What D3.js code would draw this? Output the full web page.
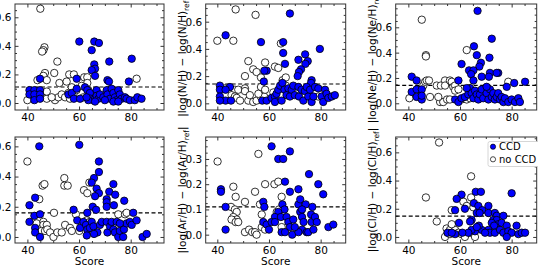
<!DOCTYPE html>
<html><head><meta charset="utf-8">
<script src="https://cdn.jsdelivr.net/npm/d3@7"></script>
<style>body{margin:0;background:#fff} svg{display:block} text{font-family:"DejaVu Sans",sans-serif;fill:#000}</style>
</head><body><svg id="c" width="538" height="266"></svg>
<script>
// ---------- data (Score, |Δlog|) ----------
const ohCCD = [[60.1,0.43],[65.9,0.43],[67.7,0.42],[64.9,0.37],[71.7,0.29],[80.4,0.31],[65.9,0.27],[66.2,0.24],[64.9,0.23],[59.1,0.17],[66.2,0.19],[71,0.16],[71.6,0.15],[79.3,0.15],[44.9,0.17],[40.8,0.09],[42.7,0.09],[44.9,0.09],[40.8,0.06],[42.7,0.06],[44.9,0.06],[42.7,0.02],[44.9,0.03],[55.9,0.06],[57.2,0.07],[58,0.03],[60.4,0.03],[62.3,0.11],[63.2,0.09],[64.2,0.07],[64.5,0.03],[65.5,0.02],[66.8,0.09],[66.8,0.05],[67.5,0.03],[68.1,0.06],[69.4,0.04],[70.7,0.09],[71,0.06],[72,0.03],[72.6,0.10],[73.3,0.07],[73.9,0.04],[74.6,0.02],[75.2,0.09],[75.8,0.06],[76.5,0.03],[77.8,0.04],[78.4,0.03],[79.7,0.02],[81.6,0.02],[82.6,0.04],[84.2,0.03],[63.6,0.02],[66.2,0.01],[70,0.02],[73.3,0.01],[75.2,0.01],[62.9,0.04],[59.1,0.10]];
const ohNoCCD = [[45,0.66],[46.6,0.39],[46.2,0.37],[45.7,0.36],[51.6,0.29],[46.8,0.21],[46.2,0.19],[47.5,0.16],[43.9,0.16],[50.4,0.21],[52.4,0.14],[56.2,0.20],[58,0.20],[55.2,0.15],[62,0.18],[63.2,0.18],[63.2,0.14],[61,0.12],[57.2,0.11],[40,0.02],[47.5,0.03],[47.5,0.08],[50.7,0.02],[52,0.04],[53.3,0.06],[54.6,0.04],[55.9,0.07],[56.5,0.03],[57.8,0.06],[59,0.09],[82.3,0.17],[49.4,0.04],[63.6,0.09],[61.7,0.04]];
const nhCCD = [[68.1,0.66],[43.2,0.50],[56.9,0.45],[65.5,0.45],[79.7,0.40],[65.5,0.37],[74,0.36],[71.4,0.32],[75,0.31],[74.1,0.29],[66.2,0.29],[72.4,0.25],[71.6,0.23],[59.1,0.24],[58.2,0.24],[71.1,0.20],[76.5,0.17],[76.3,0.15],[58,0.16],[41,0.13],[44.9,0.12],[41,0.10],[43.2,0.10],[41,0.05],[43.2,0.02],[41,0.02],[45.3,0.02],[57.4,0.02],[59.1,0.02],[61,0.04],[62.3,0.05],[62.9,0.07],[63.6,0.10],[64.3,0.13],[65.2,0.15],[66,0.10],[66.8,0.06],[67.5,0.11],[68.1,0.05],[68.8,0.10],[69.4,0.13],[70,0.06],[71.4,0.12],[71.6,0.05],[72.6,0.10],[73.3,0.02],[73.9,0.09],[74.6,0.12],[75.2,0.05],[75.9,0.10],[76.5,0.01],[77.2,0.05],[77.8,0.12],[79.1,0.11],[80.4,0.05],[81.7,0.10],[82.3,0.07],[81,0.01],[83,0.04],[84.3,0.05],[85.5,0.06],[62.3,0.01],[64.9,0.02]];
const nhNoCCD = [[47.1,0.69],[54.8,0.65],[40,0.46],[46.2,0.46],[64.6,0.44],[52,0.31],[53.9,0.25],[55.2,0.23],[58.5,0.30],[50.7,0.20],[62.3,0.27],[63.6,0.26],[56.9,0.19],[65.3,0.17],[66.5,0.19],[43,0.11],[46.8,0.10],[48.1,0.10],[50.7,0.11],[50.7,0.09],[45.5,0.06],[46.8,0.05],[47.5,0.04],[48.8,0.02],[52,0.02],[53.9,0.01],[55.2,0.02],[56.8,0.05],[58.1,0.05],[56.9,0.12],[58.5,0.10],[61.7,0.08],[55.9,0.07],[73.9,0.05],[79.1,0.05],[52.6,0.06],[66.5,0.13]];
const nehCCD = [[66.8,0.73],[72.3,0.51],[65.4,0.45],[66.5,0.38],[60.6,0.31],[68.1,0.32],[71.4,0.36],[67.5,0.29],[63.5,0.26],[65.2,0.26],[64.3,0.23],[71.6,0.24],[74.8,0.24],[74.2,0.24],[68.4,0.21],[71.2,0.21],[65.2,0.18],[59.4,0.18],[41.3,0.21],[43.2,0.18],[78.1,0.13],[81,0.16],[85.2,0.17],[41.3,0.09],[43.2,0.11],[45.2,0.11],[43.2,0.05],[45.2,0.03],[45.2,0.06],[58.1,0.03],[59.4,0.01],[60.6,0.04],[61.9,0.05],[63.2,0.07],[63.9,0.12],[64.5,0.08],[65.2,0.04],[65.8,0.10],[66.5,0.07],[67.1,0.03],[67.7,0.07],[68.4,0.11],[69,0.04],[70.3,0.08],[71,0.03],[71.6,0.11],[72.3,0.05],[72.9,0.08],[73.5,0.03],[74.2,0.05],[74.8,0.08],[75.5,0.03],[76.1,0.05],[76.8,0.01],[77.4,0.04],[78.7,0.01],[80,0.03],[81.3,0.01],[82.6,0.04],[83.2,0.01],[62.6,0.12],[70.3,0.13]];
const nehNoCCD = [[45.2,0.66],[46.8,0.38],[46.8,0.37],[62.6,0.42],[40.4,0.04],[44.5,0.08],[45.8,0.14],[46.5,0.17],[47.1,0.18],[48,0.18],[48.4,0.05],[51,0.14],[52.6,0.14],[54.2,0.18],[54.2,0.14],[56.1,0.18],[56.8,0.17],[57.4,0.13],[58.1,0.14],[52.3,0.01],[53.5,0.01],[55,0.03],[56.1,0.03],[51.6,0.05],[58.1,0.10],[60.6,0.03],[62.6,0.03],[63.9,0.04],[78.7,0.17],[42.6,0.08],[59.4,0.11]];
const shCCD = [[44.6,0.60],[60.1,0.61],[67.7,0.50],[67.7,0.43],[65.8,0.39],[64.9,0.36],[66.8,0.32],[67.7,0.29],[66.2,0.27],[71.7,0.30],[73.3,0.35],[74,0.28],[70.7,0.25],[70.7,0.23],[70.7,0.20],[73.5,0.21],[77.5,0.24],[65.3,0.20],[66.6,0.18],[63.2,0.16],[57.9,0.18],[43,0.26],[40.8,0.21],[42.7,0.14],[44.9,0.15],[40.8,0.10],[43,0.06],[43,0.03],[44.9,0.00],[59.3,0.11],[60.4,0.06],[61.7,0.10],[62.7,0.08],[63.2,0.05],[64.2,0.06],[64.9,0.10],[65.6,0.07],[67.1,0.03],[68.1,0.08],[68.8,0.10],[70.7,0.10],[71,0.03],[72,0.07],[72.6,0.10],[73.3,0.05],[73.9,0.03],[74.6,0.10],[75.2,0.00],[75.8,0.04],[77.1,0.00],[77.4,0.05],[78.4,0.09],[79.7,0.10],[80.4,0.08],[81,0.16],[82.3,0.11],[84.6,0.00],[86.2,0.02],[63,0.01],[65.8,0.02],[75.8,0.09]];
const shNoCCD = [[40,0.50],[54.3,0.39],[54.3,0.34],[55.6,0.34],[45.9,0.34],[46.6,0.35],[44.6,0.25],[50.3,0.16],[58.8,0.15],[61.9,0.31],[63.2,0.29],[64,0.36],[75.2,0.15],[77.8,0.15],[78.4,0.16],[43.6,0.09],[46.2,0.10],[46.2,0.08],[47.5,0.08],[45.5,0.04],[46.8,0.04],[47.7,0.05],[48.8,0.03],[50.1,0.00],[51.6,0.03],[53.3,0.03],[54.6,0.08],[56.5,0.06],[57.2,0.04],[60.1,0.04],[61,0.09],[63,0.11],[64.2,0.10]];
const arhCCD = [[61,0.35],[63.6,0.30],[65.5,0.30],[68.1,0.33],[66.2,0.21],[75.5,0.24],[79.1,0.20],[81,0.16],[71.4,0.18],[68.1,0.17],[41.4,0.18],[41.4,0.17],[43.2,0.11],[43.2,0.02],[57.8,0.13],[58.2,0.11],[65.2,0.12],[66,0.10],[63.6,0.09],[62.3,0.07],[64.6,0.07],[57.8,0.05],[59.1,0.04],[60,0.02],[61,0.05],[62.3,0.05],[66.8,0.07],[67.5,0.05],[68.1,0.03],[69,0.00],[64.9,0.01],[66.2,0.01],[71.4,0.12],[72.1,0.14],[72.1,0.09],[72.8,0.07],[73.4,0.05],[74.2,0.12],[72.8,0.02],[74.6,0.01],[75.2,0.01],[76.3,0.08],[76.5,0.05],[77.2,0.02],[77.8,0.07],[78.5,0.05],[71.4,0.01],[70,0.03],[69.4,0.06],[83,0.03],[84.9,0.04],[76.8,0.11],[72.8,0.10]];
const arhNoCCD = [[40.1,0.29],[55.9,0.32],[46.2,0.19],[47.1,0.15],[50.7,0.13],[54.6,0.17],[58.5,0.20],[62.1,0.20],[63.6,0.21],[64.9,0.15],[45.3,0.11],[46.8,0.10],[47.5,0.09],[46.2,0.07],[47.5,0.06],[45.5,0.06],[47.1,0.05],[48.1,0.05],[50.7,0.01],[52.3,0.02],[53.5,0.01],[54.6,0.01],[55.2,0.00],[57.2,0.08],[56.5,0.12],[63,0.09],[63.9,0.10],[57.2,0.03],[58.5,0.02],[64.9,0.03]];
const clhCCD = [[80,0.31],[66.1,0.32],[68.1,0.32],[60.6,0.30],[58.7,0.27],[65.4,0.24],[67.1,0.22],[71,0.22],[61.9,0.20],[58.1,0.19],[68.6,0.19],[66.5,0.17],[67.6,0.17],[71,0.17],[73.5,0.17],[74.2,0.15],[76.8,0.15],[72.9,0.12],[64.5,0.12],[63.9,0.11],[59.6,0.10],[74.2,0.12],[74.8,0.09],[72.3,0.10],[76.1,0.10],[78.1,0.08],[73.2,0.08],[71,0.05],[71.6,0.03],[73.5,0.03],[75.5,0.05],[76.8,0.03],[78.7,0.04],[80,0.03],[81.9,0.08],[82.6,0.02],[83.9,0.03],[85.2,0.03],[78.1,0.00],[68.4,0.05],[69.7,0.03],[65.8,0.04],[64.5,0.05],[63.2,0.03],[67.3,0.08],[58.1,0.02],[55.2,0.03],[56.8,0.03],[60.9,0.03],[66.5,0.07]];
const clhNoCCD = [[51.9,0.67],[46.8,0.28],[51,0.11],[56.8,0.19],[64.3,0.43],[64.3,0.28],[61.3,0.25],[62.6,0.22],[65.2,0.21],[54.2,0.00],[55.2,0.03],[54.8,0.06],[56.1,0.05],[56.1,0.02],[57,0.03],[58.1,0.05],[59.4,0.03],[60.6,0.02],[61.9,0.00],[63.9,0.03],[65.8,0.00],[56.8,0.09]];

const elements = ["O/H","N/H","Ne/H","S/H","Ar/H","Cl/H"];
const refLines = [0.112, 0.142, 0.142, 0.159, 0.110, 0.147];
const xTicks = [40, 60, 80];
const yTicksA = [0, 0.2, 0.4, 0.6];
const yTicksB = [0, 0.1, 0.2, 0.3];
const legendLabels = ["CCD", "no CCD"];

// ---------- layout ----------
const panels = [
  {ccd: ohCCD,  no: ohNoCCD,  x0:15,    x1:164,   y0:4,   y1:110, xd:[35.2,92.9], yd:[-0.049,0.693], yt:yTicksA, ym:0.05},
  {ccd: nhCCD,  no: nhNoCCD,  x0:205.7, x1:345.7, y0:4,   y1:110, xd:[35.5,89.7], yd:[-0.049,0.73],  yt:yTicksA, ym:0.05},
  {ccd: nehCCD, no: nehNoCCD, x0:395.7, x1:536.7, y0:4,   y1:110, xd:[35.1,89.7], yd:[-0.053,0.784], yt:yTicksA, ym:0.05},
  {ccd: shCCD,  no: shNoCCD,  x0:15,    x1:164,   y0:137, y1:243, xd:[35.2,92.9], yd:[-0.04,0.662],  yt:yTicksA, ym:0.05},
  {ccd: arhCCD, no: arhNoCCD, x0:205.7, x1:345.7, y0:137, y1:243, xd:[35.5,89.7], yd:[-0.033,0.387], yt:yTicksB, ym:0.025},
  {ccd: clhCCD, no: clhNoCCD, x0:395.7, x1:536.7, y0:137, y1:243, xd:[35.1,89.7], yd:[-0.043,0.709], yt:yTicksA, ym:0.05},
];
const svg = d3.select("#c");
const R = 3.7, BLUE = "#0000ff", FS = 10.5;

panels.forEach((p, i) => {
  const x = d3.scaleLinear().domain(p.xd).range([p.x0, p.x1]);
  const y = d3.scaleLinear().domain(p.yd).range([p.y1, p.y0]);
  const g = svg.append("g");
  const xMinor = d3.range(35, 95, 5).filter(v => v >= p.xd[0] && v <= p.xd[1] && !xTicks.includes(v));
  const yMinor = d3.range(0, 1, p.ym).map(v => +v.toFixed(3)).filter(v => v <= p.yd[1] && !p.yt.some(t => Math.abs(t - v) < 1e-6));

  const addAxis = (axis, tr, vals, size, labels) => {
    const a = g.append("g").attr("transform", tr)
      .call(axis.tickValues(vals).tickSizeInner(-size).tickSizeOuter(0).tickPadding(labels ? 3.5 : 0)
        .tickFormat(labels ? labels : ""));
    a.select(".domain").remove();
    a.selectAll("line").attr("stroke", "#000").attr("stroke-width", 0.8);
    a.selectAll("text").style("font-size", FS + "px").style("font-family", "DejaVu Sans");
    return a;
  };
  addAxis(d3.axisBottom(x), `translate(0,${p.y1})`, xTicks, 3.5, d3.format("d"));
  addAxis(d3.axisBottom(x), `translate(0,${p.y1})`, xMinor, 2, null);
  addAxis(d3.axisTop(x), `translate(0,${p.y0})`, xTicks, 3.5, null);
  addAxis(d3.axisTop(x), `translate(0,${p.y0})`, xMinor, 2, null);
  addAxis(d3.axisLeft(y), `translate(${p.x0},0)`, p.yt, 3.5, d3.format(".1f"));
  addAxis(d3.axisLeft(y), `translate(${p.x0},0)`, yMinor, 2, null);
  addAxis(d3.axisRight(y), `translate(${p.x1},0)`, p.yt, 3.5, null);
  addAxis(d3.axisRight(y), `translate(${p.x1},0)`, yMinor, 2, null);

  // reference dashed line
  g.append("line").attr("x1", p.x0).attr("x2", p.x1)
    .attr("y1", y(refLines[i])).attr("y2", y(refLines[i]))
    .attr("stroke", "#000").attr("stroke-width", 1.2).attr("stroke-dasharray", "4,2.5");

  const clipId = "clip" + i;
  svg.append("clipPath").attr("id", clipId).append("rect")
    .attr("x", p.x0).attr("y", p.y0).attr("width", p.x1 - p.x0).attr("height", p.y1 - p.y0);
  const pts = g.append("g").attr("clip-path", `url(#${clipId})`);
  pts.selectAll("circle.no").data(p.no).join("circle").attr("class", "no")
    .attr("cx", d => x(d[0])).attr("cy", d => y(d[1])).attr("r", R)
    .attr("fill", "#fff").attr("stroke", "#000").attr("stroke-width", 0.8);
  pts.selectAll("circle.ccd").data(p.ccd).join("circle").attr("class", "ccd")
    .attr("cx", d => x(d[0])).attr("cy", d => y(d[1])).attr("r", R)
    .attr("fill", BLUE).attr("stroke", "#000").attr("stroke-width", 0.8);

  // frame
  g.append("rect").attr("x", p.x0).attr("y", p.y0).attr("width", p.x1 - p.x0).attr("height", p.y1 - p.y0)
    .attr("fill", "none").attr("stroke", "#333").attr("stroke-width", 1);

  // y label
  const cx = p.x0 - 23, cy = (p.y0 + p.y1) / 2;
  const t = g.append("text").attr("transform", `translate(${cx},${cy}) rotate(-90)`)
    .attr("text-anchor", "middle").attr("dy", "0.35em").style("font-size", FS + "px");
  const el = elements[i];
  t.append("tspan").text(`|log(${el}) − log(${el})`);
  t.append("tspan").attr("dy", 3).style("font-size", "7.5px").text("ref");
  t.append("tspan").attr("dy", -3).text("|");

  // x label (bottom row)
  if (i >= 3) {
    g.append("text").attr("x", (p.x0 + p.x1) / 2).attr("y", 265)
      .attr("text-anchor", "middle").style("font-size", FS + "px").text("Score");
  }

  // legend in last panel
  if (i === 5) {
    const lg = g.append("g");
    lg.append("rect").attr("x", 488).attr("y", 141.5).attr("width", 60).attr("height", 25)
      .attr("rx", 2).attr("fill", "#fff").attr("stroke", "#ccc").attr("stroke-width", 0.8);
    [[BLUE, 146.7], ["#fff", 159.3]].forEach((e, k) => {
      lg.append("circle").attr("cx", 493).attr("cy", e[1]).attr("r", 2.6)
        .attr("fill", e[0]).attr("stroke", "#000").attr("stroke-width", 0.7);
      lg.append("text").attr("x", 499).attr("y", e[1] + 3.5).style("font-size", "10px").text(legendLabels[k]);
    });
  }
});
</script></body></html>
